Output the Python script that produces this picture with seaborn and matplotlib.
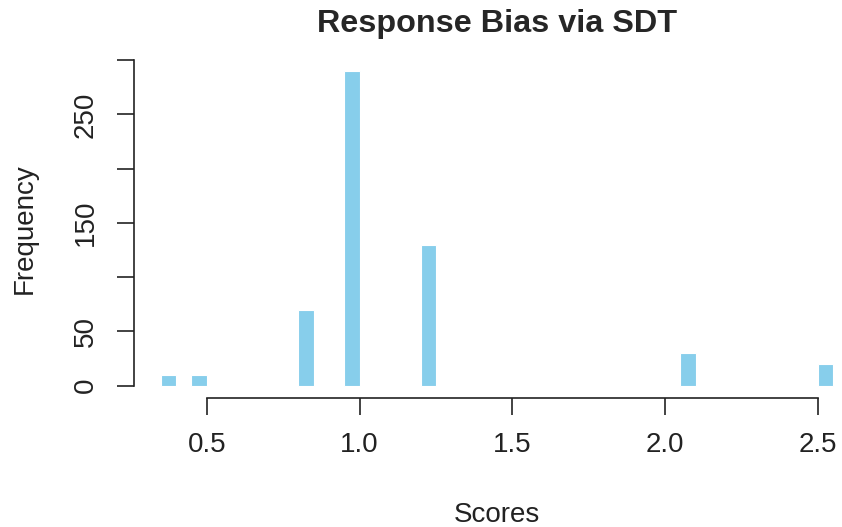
import numpy as np
import pandas as pd
import matplotlib
matplotlib.use("Agg")
import matplotlib.pyplot as plt
import seaborn as sns

# Data (bin width 0.05)
bin_centers = [0.375, 0.475, 0.825, 0.975, 1.225, 2.075, 2.525]
counts = [10, 10, 70, 290, 130, 30, 20]
bin_edges = [round(0.35 + 0.05 * i, 2) for i in range(45)]
x_ticks = [0.5, 1.0, 1.5, 2.0, 2.5]
x_tick_labels = ["0.5", "1.0", "1.5", "2.0", "2.5"]
y_ticks = [0, 50, 100, 150, 200, 250, 300]
y_tick_labels = ["0", "50", "", "150", "", "250", ""]

sns.set_style("ticks")
plt.rcParams["font.family"] = ["Liberation Sans", "DejaVu Sans"]

df = pd.DataFrame({"Scores": bin_centers, "count": counts})

W, H = 842, 527
fig = plt.figure(figsize=(W / 100, H / 100), dpi=100)
left_px, right_px, top_px, bot_px = 134, 860, 58.4, 398.3
ax = fig.add_axes([left_px / W, 1 - bot_px / H, (right_px - left_px) / W, (bot_px - top_px) / H])

sns.histplot(data=df, x="Scores", weights="count", bins=bin_edges, ax=ax,
             color="#87CEEB", edgecolor="white", linewidth=0.8, alpha=1.0)

ax.set_xlim(0.262, 2.638)
ax.set_ylim(-11.6, 301.6)

for s in ["top", "right"]:
    ax.spines[s].set_visible(False)
ax.spines["left"].set_bounds(0, 300)
ax.spines["bottom"].set_bounds(0.5, 2.5)
for s in ["left", "bottom"]:
    ax.spines[s].set_color("#222222")
    ax.spines[s].set_linewidth(1.2)

ax.set_xticks(x_ticks)
ax.set_xticklabels(x_tick_labels, fontsize=20, color="#222222")
ax.set_yticks(y_ticks)
ax.set_yticklabels(y_tick_labels, fontsize=20, color="#222222", rotation=90, va="center")
ax.tick_params(axis="both", length=12.2, width=1.2, color="#222222")
ax.tick_params(axis="x", pad=12)
ax.tick_params(axis="y", pad=13)

ax.set_xlabel("Scores", fontsize=20, color="#222222")
ax.xaxis.set_label_coords(0.5, (bot_px - 515) / (bot_px - top_px))
ax.xaxis.label.set_va("center")
ax.set_ylabel("Frequency", fontsize=20, color="#222222")
ax.yaxis.set_label_coords((25 - left_px) / (right_px - left_px), 0.5)
ax.yaxis.label.set_va("center")

ax.set_title("Response Bias via SDT", fontsize=23.3, fontweight="bold",
             y=(bot_px - 24) / (bot_px - top_px), va="center", pad=0)

fig.savefig("out.png", dpi=100)
